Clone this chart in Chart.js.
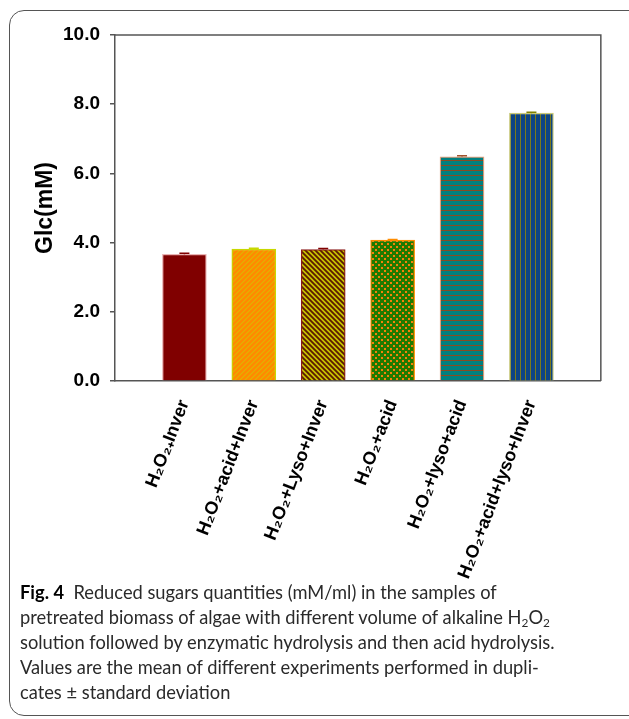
<!DOCTYPE html>
<html>
<head>
<meta charset="utf-8">
<script src="https://cdn.jsdelivr.net/npm/chart.js@4"></script>
<style>
  html, body { margin: 0; padding: 0; background: #fff; width: 629px; height: 719px; overflow: hidden; }
  #frame {
    position: absolute; left: 9px; top: 10px; width: 640px; height: 706px;
    border: 1.3px solid #555; border-radius: 15px; box-sizing: border-box;
  }
  #wrap { position: absolute; left: 0; top: 0; width: 629px; height: 590px; }
  #caption {
    position: absolute; left: 20px; top: 580px;
    font-family: Lato, "Open Sans", sans-serif; font-size: 18.3px; line-height: 25px; color: #2a2a2a;
    white-space: nowrap;
  }
  #caption b { font-weight: bold; color: #000; }
  #caption sub { font-size: 0.65em; vertical-align: -0.25em; line-height: 0; }
</style>
</head>
<body>
<div id="frame"></div>
<div id="wrap"><canvas id="glcChart"></canvas></div>
<div id="caption">
  <b>Fig. 4</b>&nbsp; Reduced sugars quantities (mM/ml) in the samples of<br>
  pretreated biomass of algae with different volume of alkaline H<sub>2</sub>O<sub>2</sub><br>
  solution followed by enzymatic hydrolysis and then acid hydrolysis.<br>
  Values are the mean of different experiments performed in dupli-<br>
  cates ± standard deviation
</div>
<script>
// datos
const categorias = ['H₂O₂₊Inver', 'H₂O₂+acid+Inver', 'H₂O₂+Lyso+Inver', 'H₂O₂+acid', 'H₂O₂+lyso+acid', 'H₂O₂+acid+lyso+Inver'];
const glc = [3.66, 3.81, 3.80, 4.07, 6.48, 7.74];
const desviacion = [0.03, 0.03, 0.03, 0.02, 0.03, 0.03];
const yTicks = [0, 2, 4, 6, 8, 10];

// patrones de relleno
function patron(w, h, fondo, dibujar) {
    const c = document.createElement('canvas');
    c.width = w; c.height = h;
    const g = c.getContext('2d');
    g.fillStyle = fondo;
    g.fillRect(0, 0, w, h);
    dibujar(g);
    return g.createPattern(c, 'repeat');
}

const rellenos = [
    '#800000',
    patron(5, 5, '#ff8a00', g => {
        g.strokeStyle = '#e0b400'; g.lineWidth = 1.1;
        g.beginPath(); g.moveTo(-1, 6); g.lineTo(6, -1); g.moveTo(-1, 1); g.lineTo(1, -1); g.moveTo(4, 6); g.lineTo(6, 4); g.stroke();
    }),
    patron(5, 5, '#c8c400', g => {
        g.strokeStyle = '#5a1a00'; g.lineWidth = 1.8;
        g.beginPath(); g.moveTo(-1, -1); g.lineTo(6, 6); g.moveTo(4, -1); g.lineTo(6, 1); g.moveTo(-1, 4); g.lineTo(1, 6); g.stroke();
    }),
    patron(6, 6, '#1f7a00', g => {
        g.fillStyle = '#f5820a';
        g.fillRect(0, 0, 2, 2); g.fillRect(3, 3, 2, 2);
    }),
    patron(5, 5, '#008080', g => {
        g.fillStyle = '#8a4a22'; g.fillRect(0, 0, 5, 1);
    }),
    patron(5, 5, '#0d4485', g => {
        g.fillStyle = '#7a7a1a'; g.fillRect(0, 0, 1, 5);
    })
];
const bordes = ['#e9b4b4', '#c8d800', '#8b1a1a', '#ff8c00', '#dfa07e', '#c8c87a'];
const colorError = ['#800000', '#c8d800', '#800000', '#ff8c00', '#a0522d', '#808000'];

// etiquetas con un hueco a cada lado (el eje deja una categoría libre en los extremos)
const etiquetas = [''].concat(categorias, ['']);
const valores = [null].concat(glc, [null]);

const marcoYErrores = {
    id: 'marcoYErrores',
    afterDatasetsDraw(chart) {
        const ctx = chart.ctx;
        const a = chart.chartArea;
        const x = chart.scales.x, y = chart.scales.y;
        ctx.save();
        // barras de error (solo se ve la parte superior)
        glc.forEach((v, i) => {
            const px = x.getPixelForValue(i + 1);
            const top = y.getPixelForValue(v + desviacion[i]);
            const base = y.getPixelForValue(v);
            ctx.strokeStyle = colorError[i];
            ctx.lineWidth = 1.5;
            ctx.beginPath();
            ctx.moveTo(px, base); ctx.lineTo(px, top);
            ctx.moveTo(px - 5, top); ctx.lineTo(px + 5, top);
            ctx.stroke();
        });
        // borde superior y derecho
        ctx.strokeStyle = '#555';
        ctx.lineWidth = 1.5;
        ctx.beginPath();
        ctx.moveTo(a.left, a.top); ctx.lineTo(a.right, a.top); ctx.lineTo(a.right, a.bottom);
        ctx.stroke();
        ctx.restore();
    }
};

const ctx = document.getElementById('glcChart').getContext('2d');
new Chart(ctx, {
    type: 'bar',
    data: {
        labels: etiquetas,
        datasets: [{
            data: valores,
            backgroundColor: [null].concat(rellenos, [null]),
            borderColor: [null].concat(bordes, [null]),
            borderWidth: 1.3,
            barThickness: 44
        }]
    },
    options: {
        responsive: true,
        maintainAspectRatio: false,
        animation: false,
        layout: { padding: { left: 32, top: 35, right: 20, bottom: 0 } },
        plugins: { legend: { display: false }, tooltip: { enabled: false } },
        scales: {
            x: {
                offset: false,
                grid: { display: false },
                border: { color: '#555', width: 1.5 },
                ticks: {
                    autoSkip: false,
                    minRotation: 69,
                    maxRotation: 69,
                    padding: 8,
                    color: '#000',
                    font: { family: 'Liberation Sans, Arial, sans-serif', size: 18, weight: 'bold' }
                },
                afterFit: s => { s.height = 209; }
            },
            y: {
                min: 0,
                max: 10,
                afterBuildTicks: s => { s.ticks = yTicks.map(v => ({ value: v })); },
                grid: { drawOnChartArea: false, drawTicks: true, tickLength: 5, color: '#555', lineWidth: 1.5 },
                border: { color: '#555', width: 1.5 },
                ticks: {
                    padding: 10,
                    color: '#000',
                    callback: v => v.toFixed(1),
                    font: { family: 'Liberation Sans, Arial, sans-serif', size: 19, weight: 'bold' }
                },
                title: {
                    display: true,
                    text: 'Glc(mM)',
                    color: '#000',
                    padding: 0,
                    font: { family: 'Liberation Sans, Arial, sans-serif', size: 23, weight: 'bold' }
                },
                afterFit: s => { s.width = 83; }
            }
        }
    },
    plugins: [marcoYErrores]
});
</script>
</body>
</html>
